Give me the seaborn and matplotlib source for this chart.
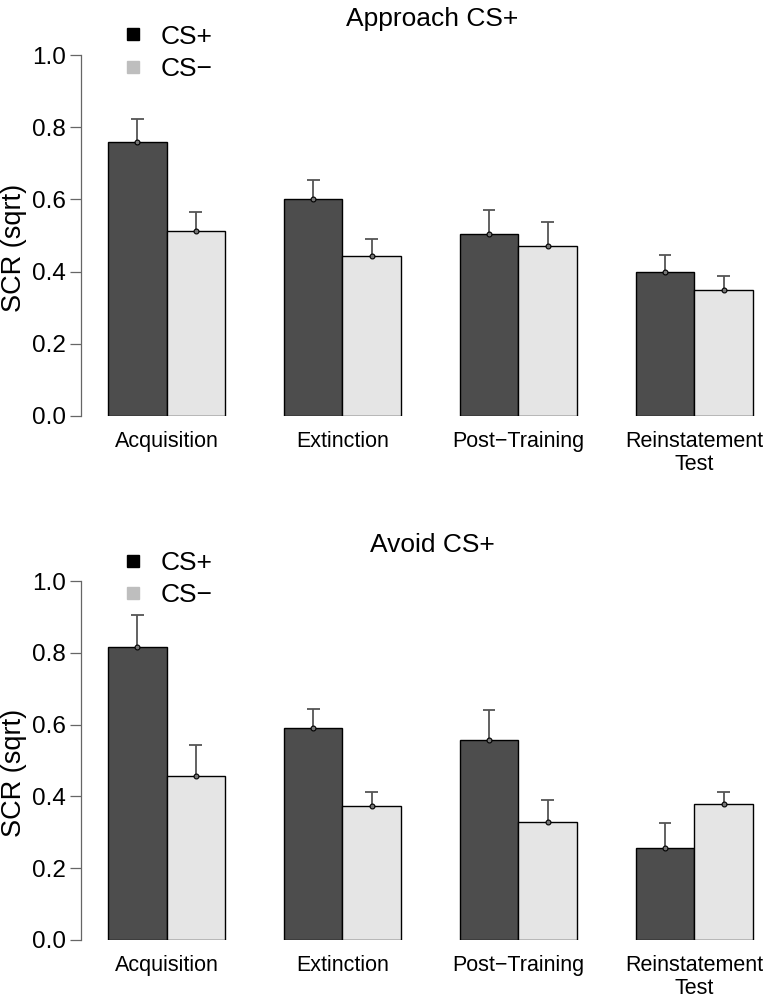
import numpy as np
import pandas as pd
import matplotlib
matplotlib.use("Agg")
import matplotlib.pyplot as plt
import seaborn as sns
from matplotlib.lines import Line2D

sns.set_style("white")
plt.rcParams['font.family'] = ['Liberation Sans', 'DejaVu Sans']
plt.rcParams['text.color'] = 'black'
plt.rcParams['axes.labelcolor'] = 'black'
plt.rcParams['xtick.color'] = 'black'
plt.rcParams['ytick.color'] = 'black'

# phases and conditions
phases = ["Acquisition", "Extinction", "Post\u2212Training", "Reinstatement\nTest"]
conds = ["CS+", "CS\u2212"]

# approach CS+ group: means and standard errors
approach_plus = [0.759, 0.600, 0.505, 0.398]
approach_minus = [0.513, 0.444, 0.472, 0.350]
approach_plus_se = [0.065, 0.054, 0.067, 0.048]
approach_minus_se = [0.053, 0.047, 0.066, 0.037]

# avoid CS+ group
avoid_plus = [0.817, 0.591, 0.558, 0.257]
avoid_minus = [0.457, 0.372, 0.330, 0.378]
avoid_plus_se = [0.087, 0.053, 0.082, 0.070]
avoid_minus_se = [0.086, 0.039, 0.060, 0.035]

bar_colors = {"CS+": "#4d4d4d", "CS\u2212": "#e5e5e5"}
legend_colors = {"CS+": "black", "CS\u2212": "#bebebe"}


def panel(ax, title, plus, minus, plus_se, minus_se):
    df = pd.DataFrame({
        "phase": phases * 2,
        "cond": [conds[0]] * 4 + [conds[1]] * 4,
        "scr": plus + minus,
        "se": plus_se + minus_se,
    })
    sns.barplot(data=df, x="phase", y="scr", hue="cond", order=phases,
                hue_order=conds, palette=bar_colors, width=0.665,
                errorbar=None, edgecolor="black", linewidth=1,
                legend=False, ax=ax)

    # error bars (upper only) with mean dots
    for cont, c in zip(ax.containers, conds):
        sub = df[df["cond"] == c]
        xs = np.array([p.get_x() + p.get_width() / 2 for p in cont])
        ys = sub["scr"].values
        se = sub["se"].values
        ax.vlines(xs, ys, ys + se, color="#555555", lw=1.3, zorder=3)
        ax.hlines(ys + se, xs - 0.036, xs + 0.036, color="#555555", lw=1.3, zorder=3)
        ax.plot(xs, ys, "o", ms=3.5, mfc="#777777", mec="black", mew=0.8, zorder=4)

    ax.set_xlim(-0.486, 3.43)
    ax.set_ylim(0, 1.0)
    ax.set_yticks([0, 0.2, 0.4, 0.6, 0.8, 1.0])
    ax.set_yticklabels(["0.0", "0.2", "0.4", "0.6", "0.8", "1.0"])
    ax.set_xlabel("")
    ax.set_ylabel("SCR (sqrt)", fontsize=19.5)
    ax.yaxis.set_label_coords(-0.078, 0.465)
    ax.set_title(title, fontsize=19, pad=21, x=0.51)
    for s in ["top", "right", "bottom"]:
        ax.spines[s].set_visible(False)
    ax.spines["left"].set_color("#666666")
    ax.spines["left"].set_linewidth(0.9)
    ax.tick_params(axis="y", labelsize=17.5, length=8, width=0.9, color="#666666",
                   left=True, pad=3)
    ax.tick_params(axis="x", labelsize=15.5, length=0, pad=11)
    for lab in ax.get_xticklabels():
        lab.set_linespacing(1.1)

    handles = [Line2D([], [], marker="s", ls="", ms=9, color=legend_colors[c]) for c in conds]
    ax.legend(handles, conds, loc="upper left", bbox_to_anchor=(0.022, 1.15),
              frameon=False, fontsize=19, handletextpad=0.55, labelspacing=0.32,
              handlelength=1.0)


fig = plt.figure(figsize=(7.7, 9.99), dpi=100)
ax1 = fig.add_axes([81 / 770, (999 - 416) / 999, 689 / 770, 361 / 999])
ax2 = fig.add_axes([81 / 770, (999 - 940) / 999, 689 / 770, 359 / 999])

panel(ax1, "Approach CS+", approach_plus, approach_minus, approach_plus_se, approach_minus_se)
panel(ax2, "Avoid CS+", avoid_plus, avoid_minus, avoid_plus_se, avoid_minus_se)

fig.savefig("out.png", dpi=100)
